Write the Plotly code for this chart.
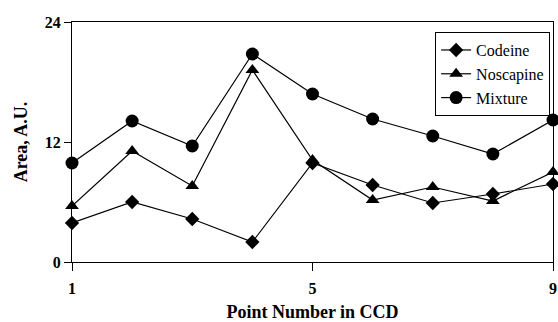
import plotly.graph_objects as go

points = [1, 2, 3, 4, 5, 6, 7, 8, 9]
codeine = [3.9, 6.0, 4.3, 2.0, 9.9, 7.7, 5.9, 6.8, 7.8]
noscapine = [5.6, 11.1, 7.6, 19.2, 10.2, 6.2, 7.5, 6.1, 9.0]
mixture = [9.9, 14.1, 11.6, 20.8, 16.8, 14.3, 12.6, 10.8, 14.2]
x_ticks = [1, 5, 9]
y_ticks = [0, 12, 24]

serif = "Liberation Serif"

fig = go.Figure()
series = [
    ("Codeine", codeine, "diamond", 11),
    ("Noscapine", noscapine, "triangle-up", 12),
    ("Mixture", mixture, "circle", 13),
]
for name, vals, sym, sz in series:
    fig.add_trace(go.Scatter(
        x=points, y=vals, name=name, mode="lines+markers",
        line=dict(color="black", width=1.2),
        marker=dict(symbol=sym, size=sz, color="black"),
        cliponaxis=False,
    ))

fig.update_layout(
    width=558, height=322,
    margin=dict(l=72, r=5, t=22, b=60),
    paper_bgcolor="white", plot_bgcolor="white",
    font=dict(family=serif, color="black"),
    showlegend=True,
    legend=dict(
        x=0.994, y=0.958, xanchor="right", yanchor="top",
        bordercolor="black", borderwidth=1, bgcolor="white",
        font=dict(size=16, family=serif, color="black"),
        itemwidth=30, tracegroupgap=0,
    ),
)
fig.update_xaxes(
    range=[1, 9], tickvals=x_ticks, ticktext=[str(v) for v in x_ticks],
    showgrid=False, zeroline=False, showline=True, linecolor="black", linewidth=1,
    mirror=True, ticks="outside", ticklen=8, tickcolor="black", automargin=False,
    ticklabelstandoff=4,
    tickfont=dict(size=16, family=serif, color="black", weight="bold"),
    title=dict(text="<b>Point Number in CCD</b>", font=dict(size=18, family=serif), standoff=10),
)
fig.update_yaxes(
    range=[0, 24], tickvals=y_ticks,
    showgrid=False, zeroline=False, showline=True, linecolor="black", linewidth=1,
    mirror=True, ticks="outside", ticklen=7, tickcolor="black", automargin=False,
    tickfont=dict(size=16, family=serif, color="black", weight="bold"),
    title=dict(text="<b>Area, A.U.</b>", font=dict(size=18, family=serif), standoff=12),
)

fig.write_html("out.html", config={"displayModeBar": False},
               post_script="document.body.style.margin='0';")
